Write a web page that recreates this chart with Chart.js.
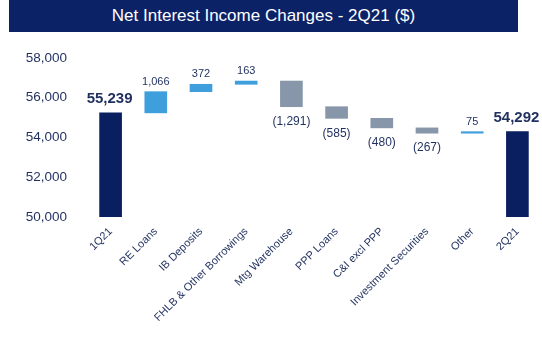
<!DOCTYPE html>
<html>
<head>
<meta charset="utf-8">
<script src="https://cdn.jsdelivr.net/npm/chart.js@4.4.0/dist/chart.umd.min.js"></script>
<style>
  html, body { margin: 0; padding: 0; background: #fff; }
  #wrap { position: relative; width: 542px; height: 338px; }
  #banner {
    position: absolute; left: 9px; top: 0; width: 509px; height: 32px;
    background: #0c2266; color: #fff; text-align: center;
    font: 17px "Liberation Sans", Arial, sans-serif; line-height: 32px;
  }
  canvas { position: absolute; left: 0; top: 0; }
</style>
</head>
<body>
<div id="wrap">
  <div id="banner">Net Interest Income Changes - 2Q21 ($)</div>
  <canvas id="nii" width="542" height="338"></canvas>
</div>
<script>
var categories = ["1Q21", "RE Loans", "IB Deposits", "FHLB & Other Borrowings", "Mtg Warehouse",
                  "PPP Loans", "C&I excl PPP", "Investment Securities", "Other", "2Q21"];
var startTotal = 55239;
var changes = [1066, 372, 163, -1291, -585, -480, -267, 75];
var endTotal = 54292;
var yTicks = [50000, 52000, 54000, 56000, 58000];

var NAVY = "#0a1f60", UP = "#3f9fdc", DOWN = "#8796a9", TEXT = "#1f2f5e";

// floating bars: [from, to] for each step of the walk
var ranges = [[50000, startTotal]];
var kinds = ["total"];
var running = startTotal;
changes.forEach(function (c) {
  ranges.push([running, running + c]);
  kinds.push(c >= 0 ? "up" : "down");
  running += c;
});
ranges.push([50000, endTotal]);
kinds.push("total");

var labels = [startTotal].concat(changes, [endTotal]);

var colors = kinds.map(function (k) {
  return k === "total" ? NAVY : (k === "up" ? UP : DOWN);
});

function fmt(v) {
  var s = Math.abs(v).toLocaleString("en-US");
  return v < 0 ? "(" + s + ")" : s;
}

var valueLabels = {
  id: "valueLabels",
  afterDatasetsDraw: function (chart) {
    var ctx = chart.ctx;
    var meta = chart.getDatasetMeta(0);
    ctx.save();
    ctx.textAlign = "center";
    ctx.textBaseline = "middle";
    ctx.fillStyle = TEXT;
    meta.data.forEach(function (bar, i) {
      var r = ranges[i];
      var top = chart.scales.y.getPixelForValue(Math.max(r[0], r[1]));
      var bottom = chart.scales.y.getPixelForValue(Math.min(r[0], r[1]));
      if (kinds[i] === "total") {
        ctx.font = "bold 15px 'Liberation Sans', Arial, sans-serif";
        ctx.fillText(fmt(labels[i]), bar.x - 1, top - 14);
      } else if (kinds[i] === "up") {
        ctx.font = "11px 'Liberation Sans', Arial, sans-serif";
        ctx.fillText(fmt(labels[i]), bar.x, top - 10);
      } else {
        ctx.font = "12px 'Liberation Sans', Arial, sans-serif";
        ctx.fillText(fmt(labels[i]), bar.x, bottom + 15);
      }
    });
    ctx.restore();
  }
};

new Chart(document.getElementById("nii"), {
  type: "bar",
  data: {
    labels: categories,
    datasets: [{
      data: ranges,
      backgroundColor: colors,
      borderWidth: 0,
      borderSkipped: false,
      barThickness: 22,
      minBarLength: 1.5
    }]
  },
  options: {
    responsive: false,
    animation: false,
    layout: { padding: { top: 58, right: 2, left: 0, bottom: 0 } },
    plugins: { legend: { display: false }, tooltip: { enabled: false } },
    scales: {
      x: {
        grid: { display: false, drawTicks: false },
        border: { display: false },
        ticks: {
          color: TEXT,
          font: { family: "'Liberation Sans', Arial, sans-serif", size: 11 },
          minRotation: 45,
          maxRotation: 45,
          padding: 8,
          autoSkip: false
        },
        afterFit: function (scale) { scale.height = 121; }
      },
      y: {
        min: 50000,
        max: 58000,
        grid: { display: false, drawTicks: false },
        border: { display: false },
        afterBuildTicks: function (scale) {
          scale.ticks = yTicks.map(function (v) { return { value: v }; });
        },
        ticks: {
          color: TEXT,
          font: { family: "'Liberation Sans', Arial, sans-serif", size: 13.5 },
          padding: 21,
          callback: function (v) { return v.toLocaleString("en-US"); }
        },
        afterFit: function (scale) { scale.width = 88; }
      }
    }
  },
  plugins: [valueLabels]
});
</script>
</body>
</html>
